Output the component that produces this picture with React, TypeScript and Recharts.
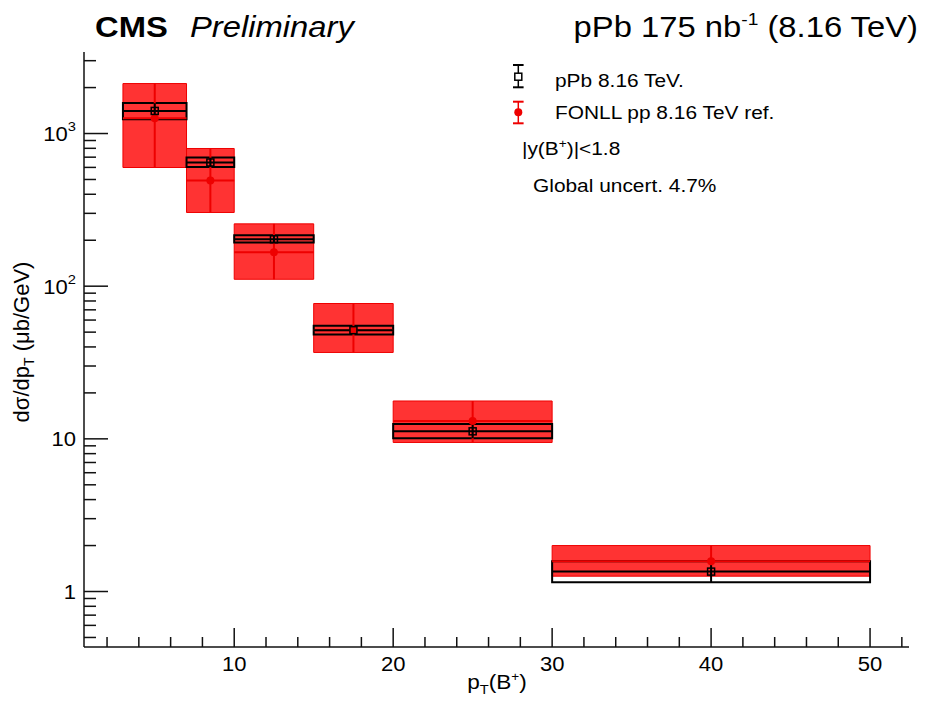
import React from 'react';
import { ComposedChart, XAxis, YAxis, ReferenceArea, ReferenceLine, Scatter } from 'recharts';

// ---- data ----
const binLow = [3, 7, 10, 15, 20, 30];
const binHigh = [7, 10, 15, 20, 30, 50];
const binCenter = [5, 8.5, 12.5, 17.5, 25, 40];
const pPbValue = [1406, 646, 203, 51.5, 11.2, 1.35];
const pPbSysLow = [1241, 604, 193, 48.3, 10.1, 1.15];
const pPbSysHigh = [1585, 697, 216, 55, 12.5, 1.58];
const pPbStatLow = [1250, 606, 194, 48.6, 10.1, 1.15];
const pPbStatHigh = [1580, 695, 215, 54.8, 12.5, 1.58];
const fonllValue = [1260, 492, 167, 51.5, 13.1, 1.58];
const fonllLow = [599, 304, 111, 36.8, 9.47, 1.26];
const fonllHigh = [2125, 798, 256, 77, 17.7, 2.0];

const xTicks = [2, 4, 6, 8, 10, 12, 14, 16, 18, 20, 22, 24, 26, 28, 30, 32, 34, 36, 38, 40, 42, 44, 46, 48, 50, 52];
const xMajorTicks = [10, 20, 30, 40, 50];
const yTicks = [0.5, 0.6, 0.7, 0.8, 0.9, 1, 2, 3, 4, 5, 6, 7, 8, 9, 10, 20, 30, 40, 50, 60, 70, 80, 90, 100, 200, 300, 400, 500, 600, 700, 800, 900, 1000, 2000, 3000];
const yMajorTicks = [1, 10, 100, 1000];
const yMajorLabels = [['1', ''], ['10', ''], ['10', '2'], ['10', '3']];
const xDomain = [0.55, 52.45];
const yDomain = [0.433, 3420];

const SX = 1.13;
const FONT = '"Liberation Sans", Arial, Helvetica, sans-serif';
const RED_FILL = '#ff0000';
const RED_LINE = '#ee0000';

const pPbPoints = binCenter.map((x, i) => ({ x, y: pPbValue[i] }));
const fonllPoints = binCenter.map((x, i) => ({ x, y: fonllValue[i] }));

const XTick = (props: any) => {
  const { x, y, payload } = props;
  const major = xMajorTicks.includes(payload.value);
  return (
    <g>
      <line x1={x} y1={y} x2={x} y2={y - (major ? 19 : 10)} stroke="#111" strokeWidth={1.5} />
      {major && (
        <g transform={`translate(${x},${y + 24}) scale(${SX},1)`}>
          <text x={0} y={0} textAnchor="middle" fontSize={19.5} fontFamily={FONT} fill="#000">
            {payload.value}
          </text>
        </g>
      )}
    </g>
  );
};

const YTick = (props: any) => {
  const { x, y, payload } = props;
  const idx = yMajorTicks.indexOf(payload.value);
  const major = idx >= 0;
  return (
    <g>
      <line x1={x} y1={y} x2={x + (major ? 24 : 12)} y2={y} stroke="#111" strokeWidth={1.5} />
      {major && (
        <g transform={`translate(${x - 8},${y + 7.5}) scale(${SX},1)`}>
          <text x={0} y={0} textAnchor="end" fontSize={19.5} fontFamily={FONT} fill="#000">
            {yMajorLabels[idx][0]}
            {yMajorLabels[idx][1] && (
              <tspan dy={-10} fontSize={13}>
                {yMajorLabels[idx][1]}
              </tspan>
            )}
          </text>
        </g>
      )}
    </g>
  );
};

const SText = (p: any) => (
  <g transform={`translate(${p.x},${p.y}) scale(${SX},1)`}>
    <text
      x={0}
      y={0}
      fontSize={p.size}
      textAnchor={p.anchor || 'start'}
      fontWeight={p.weight || 'normal'}
      fontStyle={p.italic ? 'italic' : 'normal'}
      fontFamily={FONT}
      fill={p.fill || '#000'}
    >
      {p.children}
    </text>
  </g>
);

const SquareShape = (props: any) => {
  const { cx, cy } = props;
  return <rect x={cx - 3.5} y={cy - 3.5} width={7} height={7} fill="none" stroke="#000" strokeWidth={1.5} />;
};
const DotShape = (props: any) => {
  const { cx, cy } = props;
  return <circle cx={cx} cy={cy} r={4} fill={RED_LINE} />;
};

export default function App() {
  return (
    <div style={{ position: 'relative', width: 920, height: 690, fontFamily: FONT }}>
      <ComposedChart width={920} height={690} margin={{ top: 44, right: 19, bottom: 21, left: 0 }}>
        <XAxis
          dataKey="x"
          type="number"
          domain={xDomain}
          allowDataOverflow
          ticks={xTicks}
          interval={0}
          tick={XTick}
          tickLine={false}
          tickSize={0}
          tickMargin={0}
          height={30}
          axisLine={{ stroke: '#111', strokeWidth: 1.5 }}
        />
        <XAxis
          xAxisId="top"
          orientation="top"
          type="number"
          domain={xDomain}
          allowDataOverflow
          height={0}
          tick={false}
          tickLine={false}
          axisLine={{ stroke: '#111', strokeWidth: 1.5 }}
        />
        <YAxis
          dataKey="y"
          type="number"
          scale="log"
          domain={yDomain}
          allowDataOverflow
          ticks={yTicks}
          interval={0}
          tick={YTick}
          tickLine={false}
          tickSize={0}
          tickMargin={0}
          width={76}
          axisLine={{ stroke: '#111', strokeWidth: 1.5 }}
        />
        <YAxis
          yAxisId="right"
          orientation="right"
          type="number"
          domain={[0, 1]}
          width={0}
          tick={false}
          tickLine={false}
          axisLine={{ stroke: '#111', strokeWidth: 1.5 }}
        />

        {/* FONLL uncertainty boxes */}
        {binCenter.map((c, i) => (
          <ReferenceArea
            key={`fb${i}`}
            x1={binLow[i]}
            x2={binHigh[i]}
            y1={fonllLow[i]}
            y2={fonllHigh[i]}
            fill={RED_FILL}
            fillOpacity={0.8}
            stroke={RED_LINE}
            strokeWidth={1}
          />
        ))}
        {binCenter.map((c, i) => (
          <ReferenceLine
            key={`fv${i}`}
            segment={[{ x: c, y: fonllLow[i] }, { x: c, y: fonllHigh[i] }]}
            stroke={RED_LINE}
            strokeWidth={2}
          />
        ))}
        {binCenter.map((c, i) => (
          <ReferenceLine
            key={`fh${i}`}
            segment={[{ x: binLow[i], y: fonllValue[i] }, { x: binHigh[i], y: fonllValue[i] }]}
            stroke={RED_LINE}
            strokeWidth={2}
          />
        ))}
        <Scatter data={fonllPoints} dataKey="y" shape={DotShape} isAnimationActive={false} />

        {/* pPb systematic boxes */}
        {binCenter.map((c, i) => (
          <ReferenceArea
            key={`pb${i}`}
            x1={binLow[i]}
            x2={binHigh[i]}
            y1={pPbSysLow[i]}
            y2={pPbSysHigh[i]}
            fill="none"
            fillOpacity={0}
            stroke="#000"
            strokeWidth={2}
          />
        ))}
        {binCenter.map((c, i) => (
          <ReferenceLine
            key={`pv${i}`}
            segment={[{ x: c, y: pPbStatLow[i] }, { x: c, y: pPbStatHigh[i] }]}
            stroke="#000"
            strokeWidth={2}
          />
        ))}
        {binCenter.map((c, i) => (
          <ReferenceLine
            key={`ph${i}`}
            segment={[{ x: binLow[i], y: pPbValue[i] }, { x: binHigh[i], y: pPbValue[i] }]}
            stroke="#000"
            strokeWidth={2}
          />
        ))}
        <Scatter data={pPbPoints} dataKey="y" shape={SquareShape} isAnimationActive={false} />
      </ComposedChart>

      <svg
        width={920}
        height={695}
        style={{ position: 'absolute', left: 0, top: 0, pointerEvents: 'none', overflow: 'visible' }}
      >
        {/* titles */}
        <SText x={87} y={29} size={29} weight="bold">CMS</SText>
        <SText x={182} y={29} size={29} italic>Preliminary</SText>
        <SText x={910} y={29} size={29} anchor="end">
          pPb 175 nb
          <tspan dy={-12} fontSize={17}>-1</tspan>
          <tspan dy={12} fontSize={29}> (8.16 TeV)</tspan>
        </SText>

        {/* legend */}
        <line x1={510.3} y1={57} x2={510.3} y2={79.3} stroke="#000" strokeWidth={1.5} />
        <line x1={505} y1={57} x2={515.6} y2={57} stroke="#000" strokeWidth={2} />
        <line x1={505} y1={79.3} x2={515.6} y2={79.3} stroke="#000" strokeWidth={2} />
        <rect x={506.8} y={65.2} width={7} height={7} fill="#fff" stroke="#000" strokeWidth={1.5} />
        <SText x={547} y={78.7} size={18.5}>pPb 8.16 TeV.</SText>

        <line x1={510.3} y1={93.7} x2={510.3} y2={115.3} stroke={RED_LINE} strokeWidth={1.5} />
        <line x1={505} y1={93.7} x2={515.6} y2={93.7} stroke={RED_LINE} strokeWidth={2} />
        <line x1={505} y1={115.3} x2={515.6} y2={115.3} stroke={RED_LINE} strokeWidth={2} />
        <circle cx={510.3} cy={104.3} r={4} fill={RED_LINE} />
        <SText x={547} y={111.3} size={18.5}>FONLL pp 8.16 TeV ref.</SText>

        <SText x={514} y={147} size={18.5}>
          |y(B
          <tspan dy={-7} fontSize={12}>+</tspan>
          <tspan dy={7} fontSize={18.5}>)|&lt;1.8</tspan>
        </SText>
        <SText x={525} y={184.3} size={18.5}>Global uncert. 4.7%</SText>

        {/* axis titles */}
        <SText x={489} y={681} size={20} anchor="middle">
          p
          <tspan dy={5} fontSize={13}>T</tspan>
          <tspan dy={-5} fontSize={20}>(B</tspan>
          <tspan dy={-8} fontSize={12}>+</tspan>
          <tspan dy={8} fontSize={20}>)</tspan>
        </SText>
        <g transform="translate(20.5,334) rotate(-90)">
          <text x={0} y={0} textAnchor="middle" fontSize={22} fontFamily={FONT} fill="#000">
            dσ/dp
            <tspan dy={5} fontSize={14}>T</tspan>
            <tspan dy={-5} fontSize={22}> (μb/GeV)</tspan>
          </text>
        </g>
      </svg>
    </div>
  );
}
